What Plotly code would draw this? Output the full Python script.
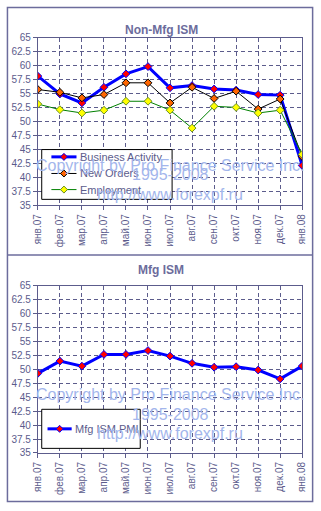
import plotly.graph_objects as go

months = ["янв.07", "фев.07", "мар.07", "апр.07", "май.07", "июн.07", "июл.07",
          "авг.07", "сен.07", "окт.07", "ноя.07", "дек.07", "янв.08"]
business_activity = [58.1, 54.9, 53.3, 56.1, 58.5, 59.8, 56.0, 56.4, 55.8, 55.6, 54.8, 54.7, 42.1]
new_orders = [55.7, 55.2, 54.2, 54.8, 56.9, 56.9, 53.3, 56.1, 54.1, 55.4, 52.2, 54.0, 43.7]
employment = [53.1, 52.1, 51.5, 52.0, 53.6, 53.6, 52.0, 48.8, 52.7, 52.5, 51.5, 52.0, 44.1]
mfg_pmi = [49.3, 51.5, 50.6, 52.7, 52.7, 53.4, 52.4, 51.1, 50.4, 50.5, 49.9, 48.3, 50.6]
y_ticks = [35, 37.5, 40, 42.5, 45, 47.5, 50, 52.5, 55, 57.5, 60, 62.5, 65]
watermark = ["Copyright by Pro Finance Service Inc.", "1995-2008", "http://www.forexpf.ru"]

W, H = 321, 511
FONT = "Arial, Liberation Sans, sans-serif"
SLATE = "#5c5c8c"
FRAME = "#6c6c9c"

def px(x):
    return x / W

def py(y):
    return 1 - y / H

styles = {
    "Business Activity": dict(lc="#0000ff", lw=3, mc="#ff0000", ml="#0000ff"),
    "New Orders": dict(lc="#000000", lw=1, mc="#ff6600", ml="#000000"),
    "Employment": dict(lc="#008000", lw=1, mc="#ffff00", ml="#6b8e23"),
    "Mfg ISM PMI": dict(lc="#0000ff", lw=3, mc="#ff0000", ml="#0000ff"),
}

fig = go.Figure()

def add(name, vals, xa, ya):
    s = styles[name]
    fig.add_trace(go.Scatter(x=months, y=vals, name=name, mode="lines+markers",
                             line=dict(color=s["lc"], width=s["lw"]),
                             marker=dict(symbol="diamond", size=6, color=s["mc"],
                                         line=dict(color=s["ml"], width=1)),
                             xaxis=xa, yaxis=ya, showlegend=False))

add("Business Activity", business_activity, "x", "y")
add("New Orders", new_orders, "x", "y")
add("Employment", employment, "x", "y")
add("Mfg ISM PMI", mfg_pmi, "x2", "y2")

DASH = "4px,3px"
xdom = [px(33), px(306.7)]
xcommon = dict(type="category", range=[0, len(months) - 1], tickangle=-90,
               showgrid=True, gridcolor=SLATE, griddash=DASH, gridwidth=1,
               showline=True, linecolor=SLATE, linewidth=1, mirror=True,
               ticks="outside", ticklen=4, tickcolor=SLATE,
               tickfont=dict(family=FONT, size=10, color=SLATE), zeroline=False)
ycommon = dict(range=[35, 65], tickvals=y_ticks, ticktext=[f"{v:g}" for v in y_ticks],
               showgrid=True, gridcolor=SLATE, griddash=DASH, gridwidth=1,
               showline=True, linecolor=SLATE, linewidth=1, mirror=True,
               ticks="outside", ticklen=4, tickcolor=SLATE,
               tickfont=dict(family=FONT, size=10, color=SLATE), zeroline=False)

fig.update_layout(
    width=W, height=H, margin=dict(l=0, r=0, t=0, b=0),
    paper_bgcolor="white", plot_bgcolor="white",
    xaxis=dict(domain=xdom, anchor="y", **xcommon),
    yaxis=dict(domain=[py(204), py(32.3)], anchor="x", **ycommon),
    xaxis2=dict(domain=xdom, anchor="y2", **xcommon),
    yaxis2=dict(domain=[py(457.7), py(286.7)], anchor="x2", **ycommon),
    showlegend=False,
)

shapes = [
    dict(type="rect", xref="paper", yref="paper", x0=px(37), x1=px(172), y0=py(198), y1=py(147),
         fillcolor="white", line=dict(color="black", width=1), layer="above"),
    dict(type="rect", xref="paper", yref="paper", x0=px(37), x1=px(139), y0=py(453), y1=py(413),
         fillcolor="white", line=dict(color="black", width=1), layer="above"),
    dict(type="rect", xref="paper", yref="paper", x0=px(1.5), x1=px(317.5), y0=py(507.5), y1=py(1.5),
         line=dict(color=FRAME, width=1.5), layer="above"),
    dict(type="line", xref="paper", yref="paper", x0=px(1.5), x1=px(317.5), y0=py(255), y1=py(255),
         line=dict(color=FRAME, width=1.5), layer="above"),
]

ann = [
    dict(text="<b>Non-Mfg ISM</b>", x=px(161), y=py(15), xref="paper", yref="paper",
         showarrow=False, font=dict(family=FONT, size=12, color=FRAME)),
    dict(text="<b>Mfg ISM</b>", x=px(160), y=py(270), xref="paper", yref="paper",
         showarrow=False, font=dict(family=FONT, size=12, color=FRAME)),
]

def legend_entry(name, x0, x1, ytxt, xtext):
    s = styles[name]
    shapes.append(dict(type="line", xref="paper", yref="paper", x0=px(x0), x1=px(x1),
                       y0=py(ytxt), y1=py(ytxt), line=dict(color=s["lc"], width=s["lw"]),
                       layer="above"))
    cx, r = (x0 + x1) / 2, 3.6
    path = (f"M {px(cx)} {py(ytxt - r)} L {px(cx + r)} {py(ytxt)} "
            f"L {px(cx)} {py(ytxt + r)} L {px(cx - r)} {py(ytxt)} Z")
    shapes.append(dict(type="path", xref="paper", yref="paper", path=path,
                       fillcolor=s["mc"], line=dict(color=s["ml"], width=1), layer="above"))
    ann.append(dict(text=name, x=px(xtext), y=py(ytxt), xref="paper", yref="paper",
                    xanchor="left", yanchor="middle", showarrow=False,
                    font=dict(family=FONT, size=11, color=SLATE)))

legend_entry("Business Activity", 47, 73, 154.5, 75)
legend_entry("New Orders", 47, 73, 171.5, 75)
legend_entry("Employment", 47, 73, 188, 75)
legend_entry("Mfg ISM PMI", 43, 68, 433, 69.5)

for base in (152.3, 408.3):
    for i, t in enumerate(watermark):
        ann.append(dict(text=t, x=px(170), y=py(base + 20.3 * i), xref="paper", yref="paper",
                        showarrow=False, font=dict(family=FONT, size=16, color="#a3b6ec")))

fig.update_layout(shapes=shapes, annotations=ann)

fig.write_html("out.html")
